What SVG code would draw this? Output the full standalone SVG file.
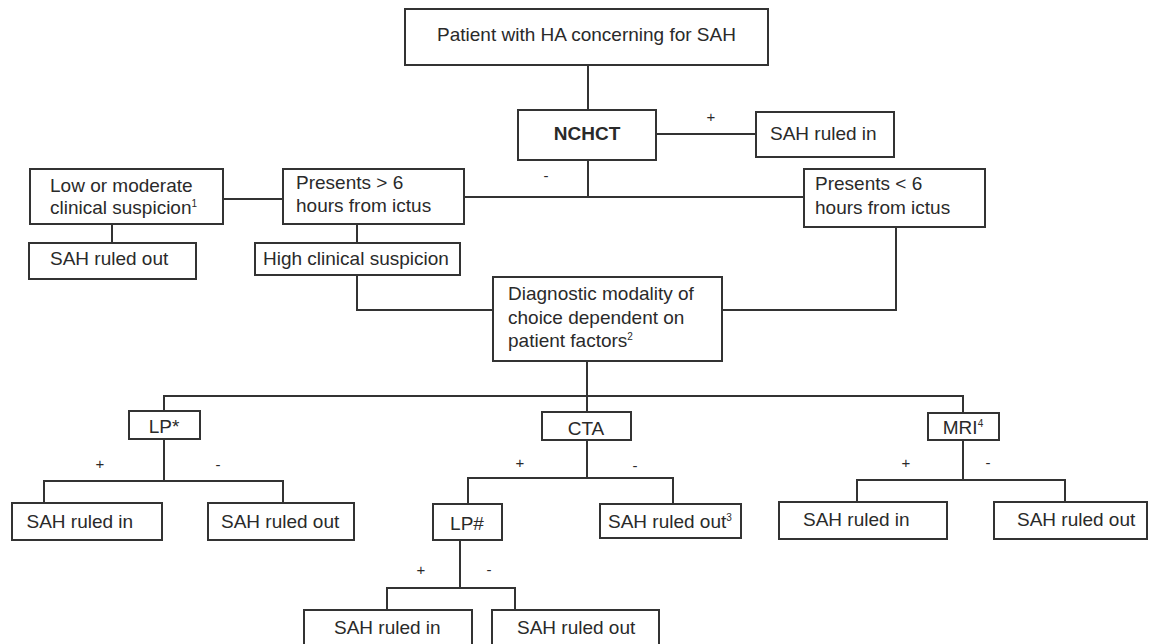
<svg xmlns="http://www.w3.org/2000/svg" width="1152" height="644" viewBox="0 0 1152 644">
<style>
.b{fill:#fff;stroke:#333;stroke-width:2}
.t{font-family:"Liberation Sans",Arial,sans-serif;font-size:19px;fill:#2a2a2a}
.c{text-anchor:middle}
.s{font-size:10px}
.l{font-family:"Liberation Sans",Arial,sans-serif;font-size:15px;fill:#2a2a2a;text-anchor:middle}
#connectors path{fill:none;stroke:#333;stroke-width:2}
</style>
<rect width="1152" height="644" fill="#fff"/>
<g id="connectors">
<path d="M588,65V110"/>
<path d="M656,134H756"/>
<path d="M588,160V197M464,197H804"/>
<path d="M223,199H283"/>
<path d="M112,224V243"/>
<path d="M357,224V243"/>
<path d="M357,275V310H493"/>
<path d="M722,310H896V227"/>
<path d="M587,361V412"/>
<path d="M164,411V396H963V413"/>
<path d="M164,439V481M44,503V481H283V503"/>
<path d="M587,440V478M468,504V478H673V504"/>
<path d="M460,540V588M387,610V588H515V610"/>
<path d="M963,440V480M857,502V480H1065V502"/>
<text class="l" x="711" y="122">+</text>
<text class="l" x="546" y="181">-</text>
<text class="l" x="100" y="469">+</text>
<text class="l" x="218" y="470">-</text>
<text class="l" x="520" y="468">+</text>
<text class="l" x="635" y="471">-</text>
<text class="l" x="421" y="575">+</text>
<text class="l" x="489" y="575">-</text>
<text class="l" x="906" y="468">+</text>
<text class="l" x="988" y="468">-</text>
</g>
<g id="n-patient"><rect class="b" x="405" y="9" width="363" height="56"/><text class="t c" x="586.5" y="41">Patient with HA concerning for SAH</text></g>
<g id="n-nchct"><rect class="b" x="518" y="110" width="138" height="50"/><text class="t c" x="587" y="140" font-weight="bold">NCHCT</text></g>
<g id="n-ruledin-top"><rect class="b" x="756" y="112" width="138" height="45"/><text class="t" x="770" y="140">SAH ruled in</text></g>
<g id="n-low"><rect class="b" x="30" y="169" width="193" height="55"/><text class="t" x="50" y="192">Low or moderate</text><text class="t" x="50" y="214">clinical suspicion<tspan class="s" dy="-7">1</tspan></text></g>
<g id="n-gt6"><rect class="b" x="283" y="169" width="181" height="55"/><text class="t" x="296" y="189">Presents &gt; 6</text><text class="t" x="296" y="212">hours from ictus</text></g>
<g id="n-lt6"><rect class="b" x="804" y="169" width="181" height="58"/><text class="t" x="815" y="190">Presents &lt; 6</text><text class="t" x="815" y="214">hours from ictus</text></g>
<g id="n-ruledout-left"><rect class="b" x="29" y="243" width="167" height="36"/><text class="t" x="50" y="265">SAH ruled out</text></g>
<g id="n-high"><rect class="b" x="255" y="243" width="205" height="32"/><text class="t" x="263" y="265">High clinical suspicion</text></g>
<g id="n-diag"><rect class="b" x="493" y="277" width="229" height="84"/><text class="t" x="508" y="300">Diagnostic modality of</text><text class="t" x="508" y="324">choice dependent on</text><text class="t" x="508" y="347">patient factors<tspan class="s" dy="-7">2</tspan></text></g>
<g id="n-lp"><rect class="b" x="129" y="411" width="71" height="28"/><text class="t c" x="164" y="433">LP*</text></g>
<g id="n-cta"><rect class="b" x="542" y="412" width="89" height="28"/><text class="t c" x="586" y="435">CTA</text></g>
<g id="n-mri"><rect class="b" x="928" y="413" width="71" height="27"/><text class="t c" x="963" y="434">MRI<tspan class="s" dy="-7">4</tspan></text></g>
<g id="n-lp-in"><rect class="b" x="12" y="503" width="150" height="37"/><text class="t" x="26.5" y="528">SAH ruled in</text></g>
<g id="n-lp-out"><rect class="b" x="208" y="503" width="146" height="37"/><text class="t" x="221" y="528">SAH ruled out</text></g>
<g id="n-lphash"><rect class="b" x="433" y="504" width="69" height="36"/><text class="t c" x="467" y="530">LP#</text></g>
<g id="n-cta-out"><rect class="b" x="600" y="504" width="141" height="34"/><text class="t" x="608" y="528">SAH ruled out<tspan class="s" dy="-7">3</tspan></text></g>
<g id="n-mri-in"><rect class="b" x="779" y="502" width="168" height="37"/><text class="t" x="803" y="526">SAH ruled in</text></g>
<g id="n-mri-out"><rect class="b" x="994" y="502" width="153" height="37"/><text class="t" x="1017" y="526">SAH ruled out</text></g>
<g id="n-lphash-in"><rect class="b" x="304" y="610" width="168" height="44"/><text class="t" x="334" y="634">SAH ruled in</text></g>
<g id="n-lphash-out"><rect class="b" x="492" y="610" width="167" height="44"/><text class="t" x="517" y="634">SAH ruled out</text></g>
</svg>
